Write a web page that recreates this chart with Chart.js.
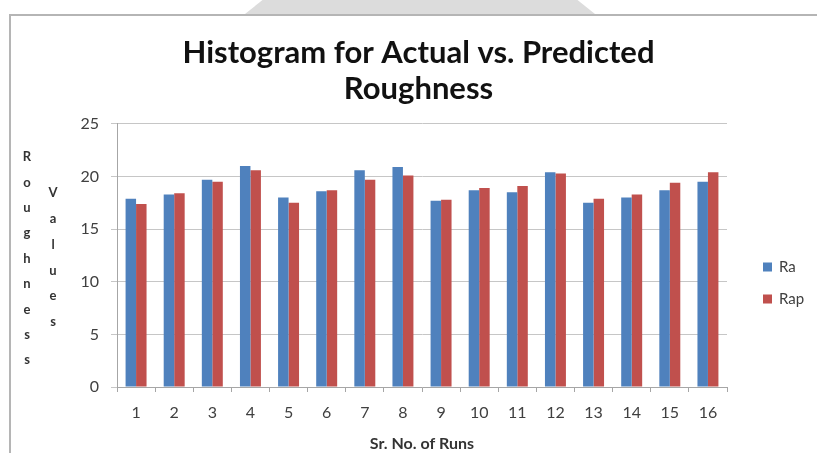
<!DOCTYPE html>
<html>
<head>
<meta charset="utf-8">
<script src="https://cdn.jsdelivr.net/npm/chart.js@4/dist/chart.umd.min.js"></script>
<style>
  html, body { margin: 0; padding: 0; background: #ffffff; }
  #wrap { position: relative; width: 817px; height: 453px; overflow: hidden; }
  #mark { position: absolute; left: 245px; top: 0; width: 350px; height: 14px; background: #dcdcdc;
          clip-path: polygon(5% 0, 95% 0, 100% 100%, 0 100%); }
  #frame { position: absolute; left: 9px; top: 14px; width: 900px; height: 500px;
           border-left: 2px solid #b5b5b5; border-top: 2px solid #b5b5b5; background: #ffffff; }
  #c { position: absolute; left: 0; top: 0; }
</style>
</head>
<body>
<div id="wrap">
  <div id="mark"></div>
  <div id="frame"></div>
  <canvas id="c" width="817" height="453"></canvas>
</div>
<script>
// ---- data ----
const categories = ['1','2','3','4','5','6','7','8','9','10','11','12','13','14','15','16'];
const raValues  = [17.9, 18.3, 19.7, 21.0, 18.0, 18.6, 20.6, 20.9, 17.7, 18.7, 18.5, 20.4, 17.5, 18.0, 18.7, 19.5];
const rapValues = [17.4, 18.4, 19.5, 20.6, 17.5, 18.7, 19.7, 20.1, 17.8, 18.9, 19.1, 20.3, 17.9, 18.3, 19.4, 20.4];
const seriesLabels = ['Ra', 'Rap'];
const titleLines = ['Histogram for Actual vs. Predicted', 'Roughness'];
const yTitleOuter = 'Roughness';
const yTitleInner = 'Values';
const xTitle = 'Sr. No. of Runs';

const FONT = 'Lato, "Open Sans", sans-serif';

// vertical stacked y-axis title + legend plugin
const extras = {
  id: 'extras',
  afterDraw(chart) {
    const ctx = chart.ctx;
    ctx.save();
    ctx.fillStyle = '#333333';
    ctx.font = 'bold 13px ' + FONT;
    ctx.textAlign = 'center';
    ctx.textBaseline = 'middle';
    yTitleOuter.split('').forEach((ch, i) => ctx.fillText(ch, 27, 157 + i * 25.4));
    yTitleInner.split('').forEach((ch, i) => ctx.fillText(ch, 53, 193 + i * 25.8));

    // legend
    ctx.font = '15px ' + FONT;
    ctx.textAlign = 'left';
    chart.data.datasets.forEach((ds, i) => {
      const cy = 267 + i * 32;
      ctx.fillStyle = ds.backgroundColor;
      ctx.fillRect(763, cy - 4.5, 9, 9);
      ctx.fillStyle = '#404040';
      ctx.fillText(ds.label, 779, cy);
    });
    ctx.restore();
  }
};

new Chart(document.getElementById('c'), {
  type: 'bar',
  data: {
    labels: categories,
    datasets: [
      { label: seriesLabels[0], data: raValues, backgroundColor: '#4F81BD', borderWidth: 0 },
      { label: seriesLabels[1], data: rapValues, backgroundColor: '#C0504D', borderWidth: 0 }
    ]
  },
  options: {
    responsive: false,
    animation: false,
    devicePixelRatio: 1,
    layout: { padding: { left: 20, right: 0, top: 0, bottom: 0 } },
    datasets: { bar: { categoryPercentage: 0.55, barPercentage: 1.0 } },
    plugins: {
      legend: { display: false },
      tooltip: { enabled: false },
      title: {
        display: true,
        text: titleLines,
        color: '#111111',
        font: { family: FONT, size: 31, weight: 'bold', lineHeight: 1.16 },
        padding: { top: 35, bottom: 17 }
      }
    },
    scales: {
      x: {
        grid: { display: true, drawOnChartArea: false, drawTicks: true, tickLength: 5, color: '#a6a6a6', offset: true },
        border: { display: true, color: '#a6a6a6', width: 1 },
        ticks: { color: '#404040', font: { family: FONT, size: 16, lineHeight: 1.2 }, padding: 11, maxRotation: 0, autoSkip: false },
        title: { display: true, text: xTitle, color: '#333333', font: { family: FONT, size: 16, weight: 'bold', lineHeight: 1.2 }, padding: { top: 0, bottom: 0 } },
        afterFit(scale) { scale.height = 66; }
      },
      y: {
        min: 0, max: 25,
        ticks: { stepSize: 5, color: '#404040', font: { family: FONT, size: 16 }, padding: 12 },
        grid: { color: '#c6c6c6', drawTicks: true, tickLength: 6, lineWidth: 1 },
        border: { display: true, color: '#a6a6a6', width: 1 },
        afterFit(scale) { scale.width = 97; }
      },
      legendSpace: {
        type: 'linear',
        position: 'right',
        display: true,
        grid: { display: false, drawOnChartArea: false },
        border: { display: false },
        ticks: { display: false },
        afterFit(scale) { scale.width = 90; }
      }
    }
  },
  plugins: [extras]
});
</script>
</body>
</html>
